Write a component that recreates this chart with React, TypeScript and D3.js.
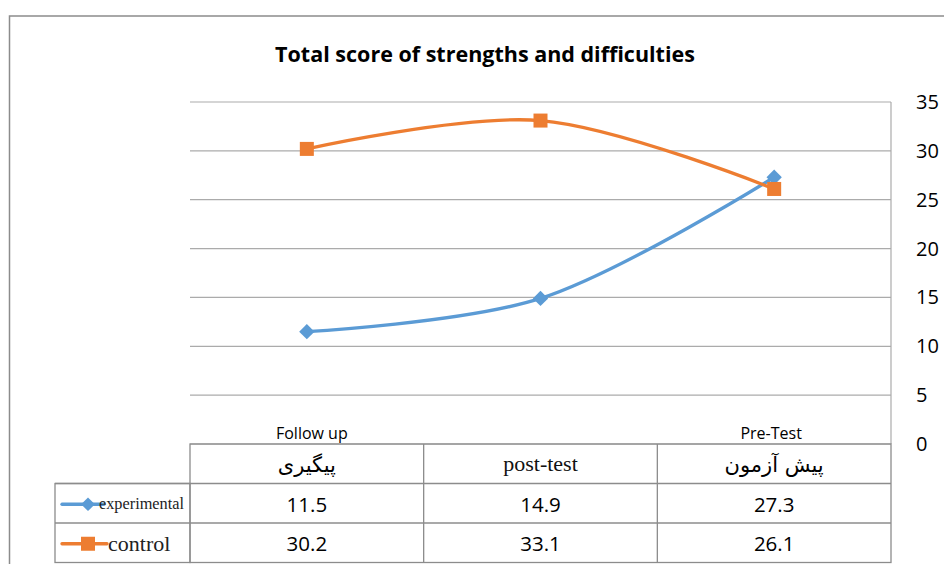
import React from "react";
import * as d3 from "d3";

const categories = ["پیگیری", "post-test", "پیش آزمون"];
const topLabels = ["Follow up", "", "Pre-Test"];
const seriesNames = ["experimental", "control"];
const experimental = [11.5, 14.9, 27.3];
const control = [30.2, 33.1, 26.1];
const yTicks = [0, 5, 10, 15, 20, 25, 30, 35];
const title = "Total score of strengths and difficulties";

const W = 944;
const H = 564;
const plotLeft = 190;
const plotRight = 891;
const plotTop = 102;
const plotBottom = 444;
const rowH = 39.5;
const legendLeft = 55;

const BLUE = "#5B9BD5";
const ORANGE = "#ED7D31";
const GRID = "#ababab";
const BORDER = "#8c8c8c";

export default function App() {
  const x = d3.scaleBand<number>().domain([0, 1, 2]).range([plotLeft, plotRight]);
  const y = d3.scaleLinear().domain([0, 35]).range([plotBottom, plotTop]);
  const cx = (i: number) => (x(i) as number) + x.bandwidth() / 2;
  const line = d3
    .line<number>()
    .x((_, i) => cx(i))
    .y((d) => y(d))
    .curve(d3.curveCatmullRom.alpha(0.5));
  const series = [
    { name: seriesNames[0], values: experimental, color: BLUE, marker: "diamond" },
    { name: seriesNames[1], values: control, color: ORANGE, marker: "square" },
  ];
  const diamond = d3.symbol(d3.symbolDiamond2, 150)() as string;
  const bodyFont = "'Open Sans', 'Noto Sans', sans-serif";
  return (
    <div style={{ position: "absolute", left: 0, top: 0 }}>
      <svg width={W} height={H} style={{ display: "block", background: "#fff" }}>
        {/* outer frame */}
        <path d={`M9.5,${H} L9.5,16 L${W},16`} fill="none" stroke={BORDER} strokeWidth={1.5} />
        <text x={485} y={62} textAnchor="middle" fontFamily={bodyFont} fontWeight="bold" fontSize={21.5} fill="#000">
          {title}
        </text>
        {/* gridlines */}
        {yTicks.map((t) => (
          <line key={t} x1={plotLeft} x2={plotRight} y1={y(t)} y2={y(t)} stroke={GRID} strokeWidth={1.2} />
        ))}
        <line x1={plotRight} x2={plotRight} y1={plotTop} y2={plotBottom} stroke={GRID} strokeWidth={1.2} />
        {yTicks.map((t) => (
          <text key={t} x={916} y={y(t) + 7} fontFamily={bodyFont} fontSize={20} fill="#000">
            {t}
          </text>
        ))}
        {/* series */}
        {series.map((s) => (
          <g key={s.name}>
            <path d={line(s.values) as string} fill="none" stroke={s.color} strokeWidth={3.3} />
            {s.values.map((v, i) =>
              s.marker === "square" ? (
                <rect key={i} x={cx(i) - 7} y={y(v) - 7} width={14} height={14} fill={s.color} />
              ) : (
                <path key={i} d={diamond} transform={`translate(${cx(i)},${y(v)})`} fill={s.color} />
              )
            )}
          </g>
        ))}
        {/* top category labels */}
        {topLabels.map((l, i) =>
          l ? (
            <text key={i} x={cx(i) + (i === 0 ? 5 : -3)} y={439} textAnchor="middle" fontFamily={bodyFont} fontSize={16} fill="#000">
              {l}
            </text>
          ) : null
        )}
        {/* data table */}
        <g fill="none" stroke={BORDER} strokeWidth={1.3}>
          <rect x={plotLeft} y={plotBottom} width={plotRight - plotLeft} height={rowH * 3} />
          <rect x={legendLeft} y={plotBottom + rowH} width={plotLeft - legendLeft} height={rowH * 2} />
          <line x1={legendLeft} x2={plotRight} y1={plotBottom + rowH} y2={plotBottom + rowH} />
          <line x1={legendLeft} x2={plotRight} y1={plotBottom + 2 * rowH} y2={plotBottom + 2 * rowH} />
          {[1, 2].map((i) => (
            <line key={i} x1={x(i) as number} x2={x(i) as number} y1={plotBottom} y2={plotBottom + 3 * rowH} />
          ))}
        </g>
        {categories.map((c, i) =>
          i === 1 ? (
            <text key={i} x={cx(i)} y={plotBottom + 27} textAnchor="middle" fontFamily="'Liberation Serif', serif" fontSize={22} fill="#111">
              {c}
            </text>
          ) : (
            <text key={i} x={cx(i)} y={plotBottom + 28} textAnchor="middle" fontFamily="'DejaVu Sans', sans-serif" fontSize={21} fill="#000" direction="rtl">
              {c}
            </text>
          )
        )}
        {series.map((s, r) => (
          <g key={s.name}>
            {s.values.map((v, i) => (
              <text key={i} x={cx(i)} y={plotBottom + rowH * (r + 1) + 28} textAnchor="middle" fontFamily={bodyFont} fontSize={20.5} fill="#000">
                {v.toFixed(1)}
              </text>
            ))}
          </g>
        ))}
        {/* legend keys */}
        {series.map((s, r) => {
          const ly = plotBottom + rowH * (r + 1) + rowH / 2 + 1;
          return (
            <g key={s.name}>
              <line x1={62} x2={r === 0 ? 104 : 107} y1={ly} y2={ly} stroke={s.color} strokeWidth={3.3} strokeLinecap="round" />
              {s.marker === "square" ? (
                <rect x={81} y={ly - 7} width={14} height={14} fill={s.color} />
              ) : (
                <path d={d3.symbol(d3.symbolDiamond2, 120)() as string} transform={`translate(88,${ly})`} fill={s.color} />
              )}
              {r === 0 ? (
                <text x={99} y={ly + 5} fontFamily="'Liberation Serif', serif" fontSize={16} textLength={85} lengthAdjust="spacingAndGlyphs" fill="#222">
                  {s.name}
                </text>
              ) : (
                <text x={108} y={ly + 7} fontFamily="'Liberation Serif', serif" fontSize={22} fill="#222">
                  {s.name}
                </text>
              )}
            </g>
          );
        })}
      </svg>
    </div>
  );
}
